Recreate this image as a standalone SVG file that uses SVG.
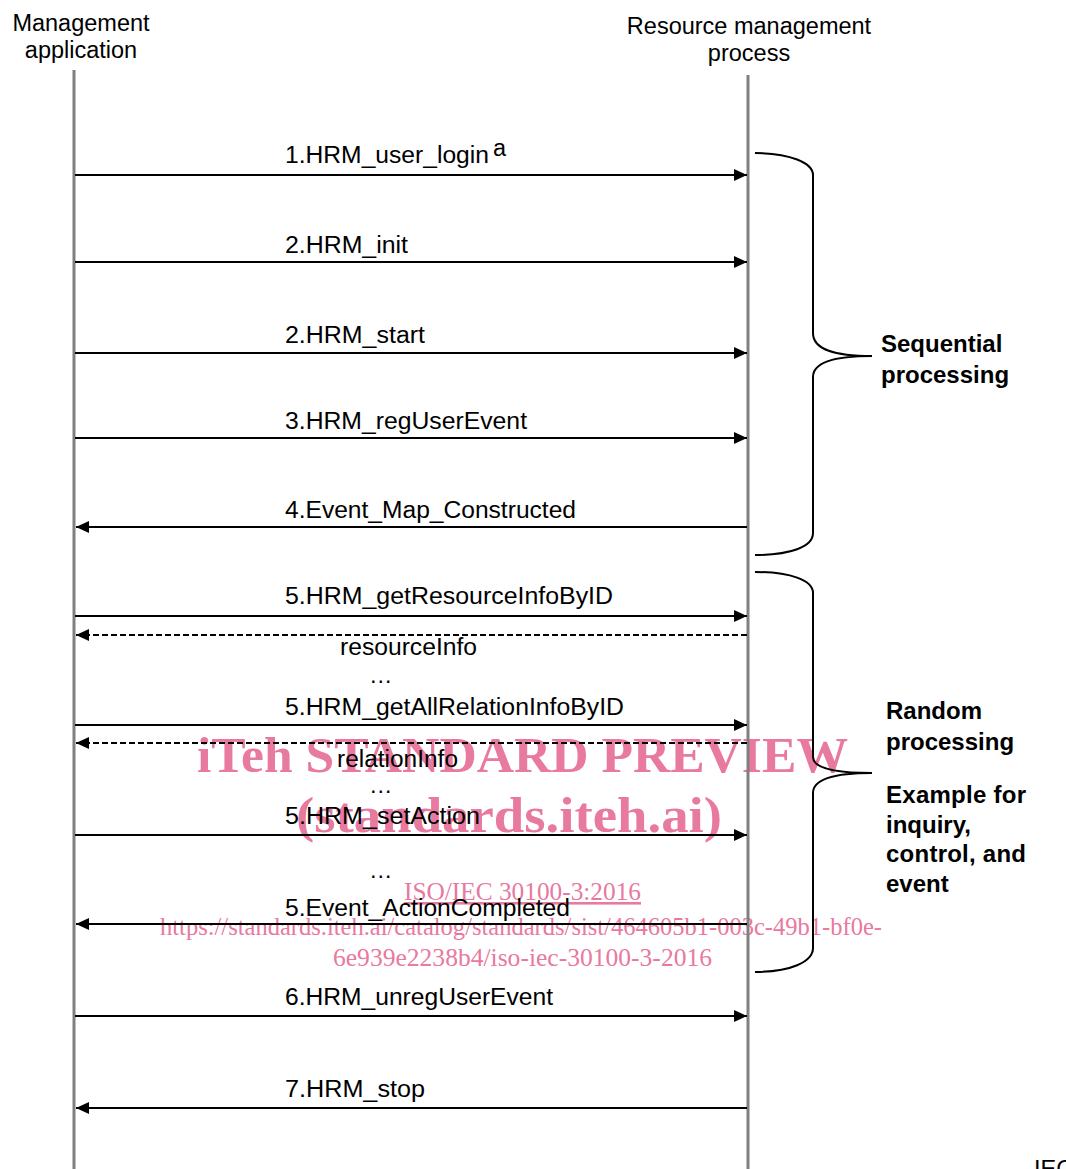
<svg xmlns="http://www.w3.org/2000/svg" width="1066" height="1169" viewBox="0 0 1066 1169">
<style>
.t{font-family:"Liberation Sans",Arial,sans-serif;font-size:23.5px;fill:#000}
.b{font-family:"Liberation Sans",Arial,sans-serif;font-size:24px;font-weight:bold;fill:#000}
.life{stroke:#808080;stroke-width:3;fill:none}
.msg{stroke:#000;stroke-width:2;fill:none;marker-end:url(#ah)}
.ret{stroke:#000;stroke-width:2;fill:none;stroke-dasharray:6 3;marker-end:url(#ah)}
.brace{stroke:#000;stroke-width:2;fill:none}
.wm{font-family:"Liberation Serif","Times New Roman",serif;fill:#e8799f}
</style>
<defs>
<marker id="ah" markerUnits="userSpaceOnUse" markerWidth="14" markerHeight="12" refX="13" refY="6" orient="auto">
<path d="M0,0 L13,6 L0,12 z" fill="#000"/>
</marker>
</defs>
<g id="watermark">
<text class="wm" x="197" y="772" font-size="50" font-weight="bold" textLength="651" lengthAdjust="spacingAndGlyphs">iTeh STANDARD PREVIEW</text>
<text class="wm" x="296" y="832" font-size="50" font-weight="bold" textLength="426" lengthAdjust="spacingAndGlyphs">(standards.iteh.ai)</text>
<text class="wm" x="404" y="900" font-size="26" text-decoration="underline" textLength="237" lengthAdjust="spacingAndGlyphs">ISO/IEC 30100-3:2016</text>
<text class="wm" x="160" y="935" font-size="26" textLength="722" lengthAdjust="spacingAndGlyphs">https://standards.iteh.ai/catalog/standards/sist/464605b1-003c-49b1-bf0e-</text>
<text class="wm" x="333" y="966" font-size="26" textLength="379" lengthAdjust="spacingAndGlyphs">6e939e2238b4/iso-iec-30100-3-2016</text>
</g>
<g id="mgmt-app">
<text class="t" x="81" y="31" text-anchor="middle">Management</text>
<text class="t" x="81" y="58" text-anchor="middle">application</text>
<line class="life" x1="74" y1="70" x2="74" y2="1169"/>
</g>
<g id="res-mgmt">
<text class="t" x="749" y="34" text-anchor="middle">Resource management</text>
<text class="t" x="749" y="61" text-anchor="middle">process</text>
<line class="life" x1="748" y1="75" x2="748" y2="1169"/>
</g>
<g id="connectors">
<line class="msg" x1="75" y1="175" x2="747" y2="175"/>
<line class="msg" x1="75" y1="262" x2="747" y2="262"/>
<line class="msg" x1="75" y1="353" x2="747" y2="353"/>
<line class="msg" x1="75" y1="438" x2="747" y2="438"/>
<line class="msg" x1="747" y1="527" x2="76" y2="527"/>
<line class="msg" x1="75" y1="616" x2="747" y2="616"/>
<line class="ret" x1="747" y1="635" x2="76" y2="635"/>
<line class="msg" x1="75" y1="725" x2="747" y2="725"/>
<line class="ret" x1="747" y1="743" x2="76" y2="743"/>
<line class="msg" x1="75" y1="835" x2="747" y2="835"/>
<line class="msg" x1="747" y1="924" x2="76" y2="924"/>
<line class="msg" x1="75" y1="1016" x2="747" y2="1016"/>
<line class="msg" x1="747" y1="1108" x2="76" y2="1108"/>
</g>
<g id="labels">
<text class="t" x="285" y="163" textLength="204" lengthAdjust="spacingAndGlyphs">1.HRM_user_login</text>
<text class="t" x="493" y="156" font-size="16">a</text>
<text class="t" x="285" y="253" textLength="123" lengthAdjust="spacingAndGlyphs">2.HRM_init</text>
<text class="t" x="285" y="343" textLength="140" lengthAdjust="spacingAndGlyphs">2.HRM_start</text>
<text class="t" x="285" y="429" textLength="242" lengthAdjust="spacingAndGlyphs">3.HRM_regUserEvent</text>
<text class="t" x="285" y="518" textLength="291" lengthAdjust="spacingAndGlyphs">4.Event_Map_Constructed</text>
<text class="t" x="285" y="604" textLength="328" lengthAdjust="spacingAndGlyphs">5.HRM_getResourceInfoByID</text>
<text class="t" x="340" y="655" textLength="137" lengthAdjust="spacingAndGlyphs">resourceInfo</text>
<text class="t" x="369" y="683" font-size="16">…</text>
<text class="t" x="285" y="715" textLength="339" lengthAdjust="spacingAndGlyphs">5.HRM_getAllRelationInfoByID</text>
<text class="t" x="337" y="767" textLength="121" lengthAdjust="spacingAndGlyphs">relationInfo</text>
<text class="t" x="369" y="793" font-size="16">…</text>
<text class="t" x="285" y="824" textLength="195" lengthAdjust="spacingAndGlyphs">5.HRM_setAction</text>
<text class="t" x="369" y="878" font-size="16">…</text>
<text class="t" x="285" y="916" textLength="285" lengthAdjust="spacingAndGlyphs">5.Event_ActionCompleted</text>
<text class="t" x="285" y="1005" textLength="268" lengthAdjust="spacingAndGlyphs">6.HRM_unregUserEvent</text>
<text class="t" x="285" y="1097" textLength="140" lengthAdjust="spacingAndGlyphs">7.HRM_stop</text>
</g>
<g id="seq-brace">
<path class="brace" d="M755,153 C790,153 813,163 813,175 L813,333 C813,350 835,356 872,356 C835,356 813,362 813,377 L813,533 C813,547 790,555 755,555"/>
<text class="b" x="881" y="352">Sequential</text>
<text class="b" x="881" y="383">processing</text>
</g>
<g id="rand-brace">
<path class="brace" d="M755,572 C790,572 813,580 813,593 L813,757 C813,768 835,773 872,773 C835,773 813,779 813,793 L813,948 C813,962 790,972 755,972"/>
<text class="b" x="886" y="719">Random</text>
<text class="b" x="886" y="750">processing</text>
<text class="b" x="886" y="803" textLength="140" lengthAdjust="spacing">Example for</text>
<text class="b" x="886" y="833">inquiry,</text>
<text class="b" x="886" y="862" textLength="140" lengthAdjust="spacing">control, and</text>
<text class="b" x="886" y="892">event</text>
</g>
<text class="t" x="1034" y="1177" font-size="20">IEC</text>
</svg>
